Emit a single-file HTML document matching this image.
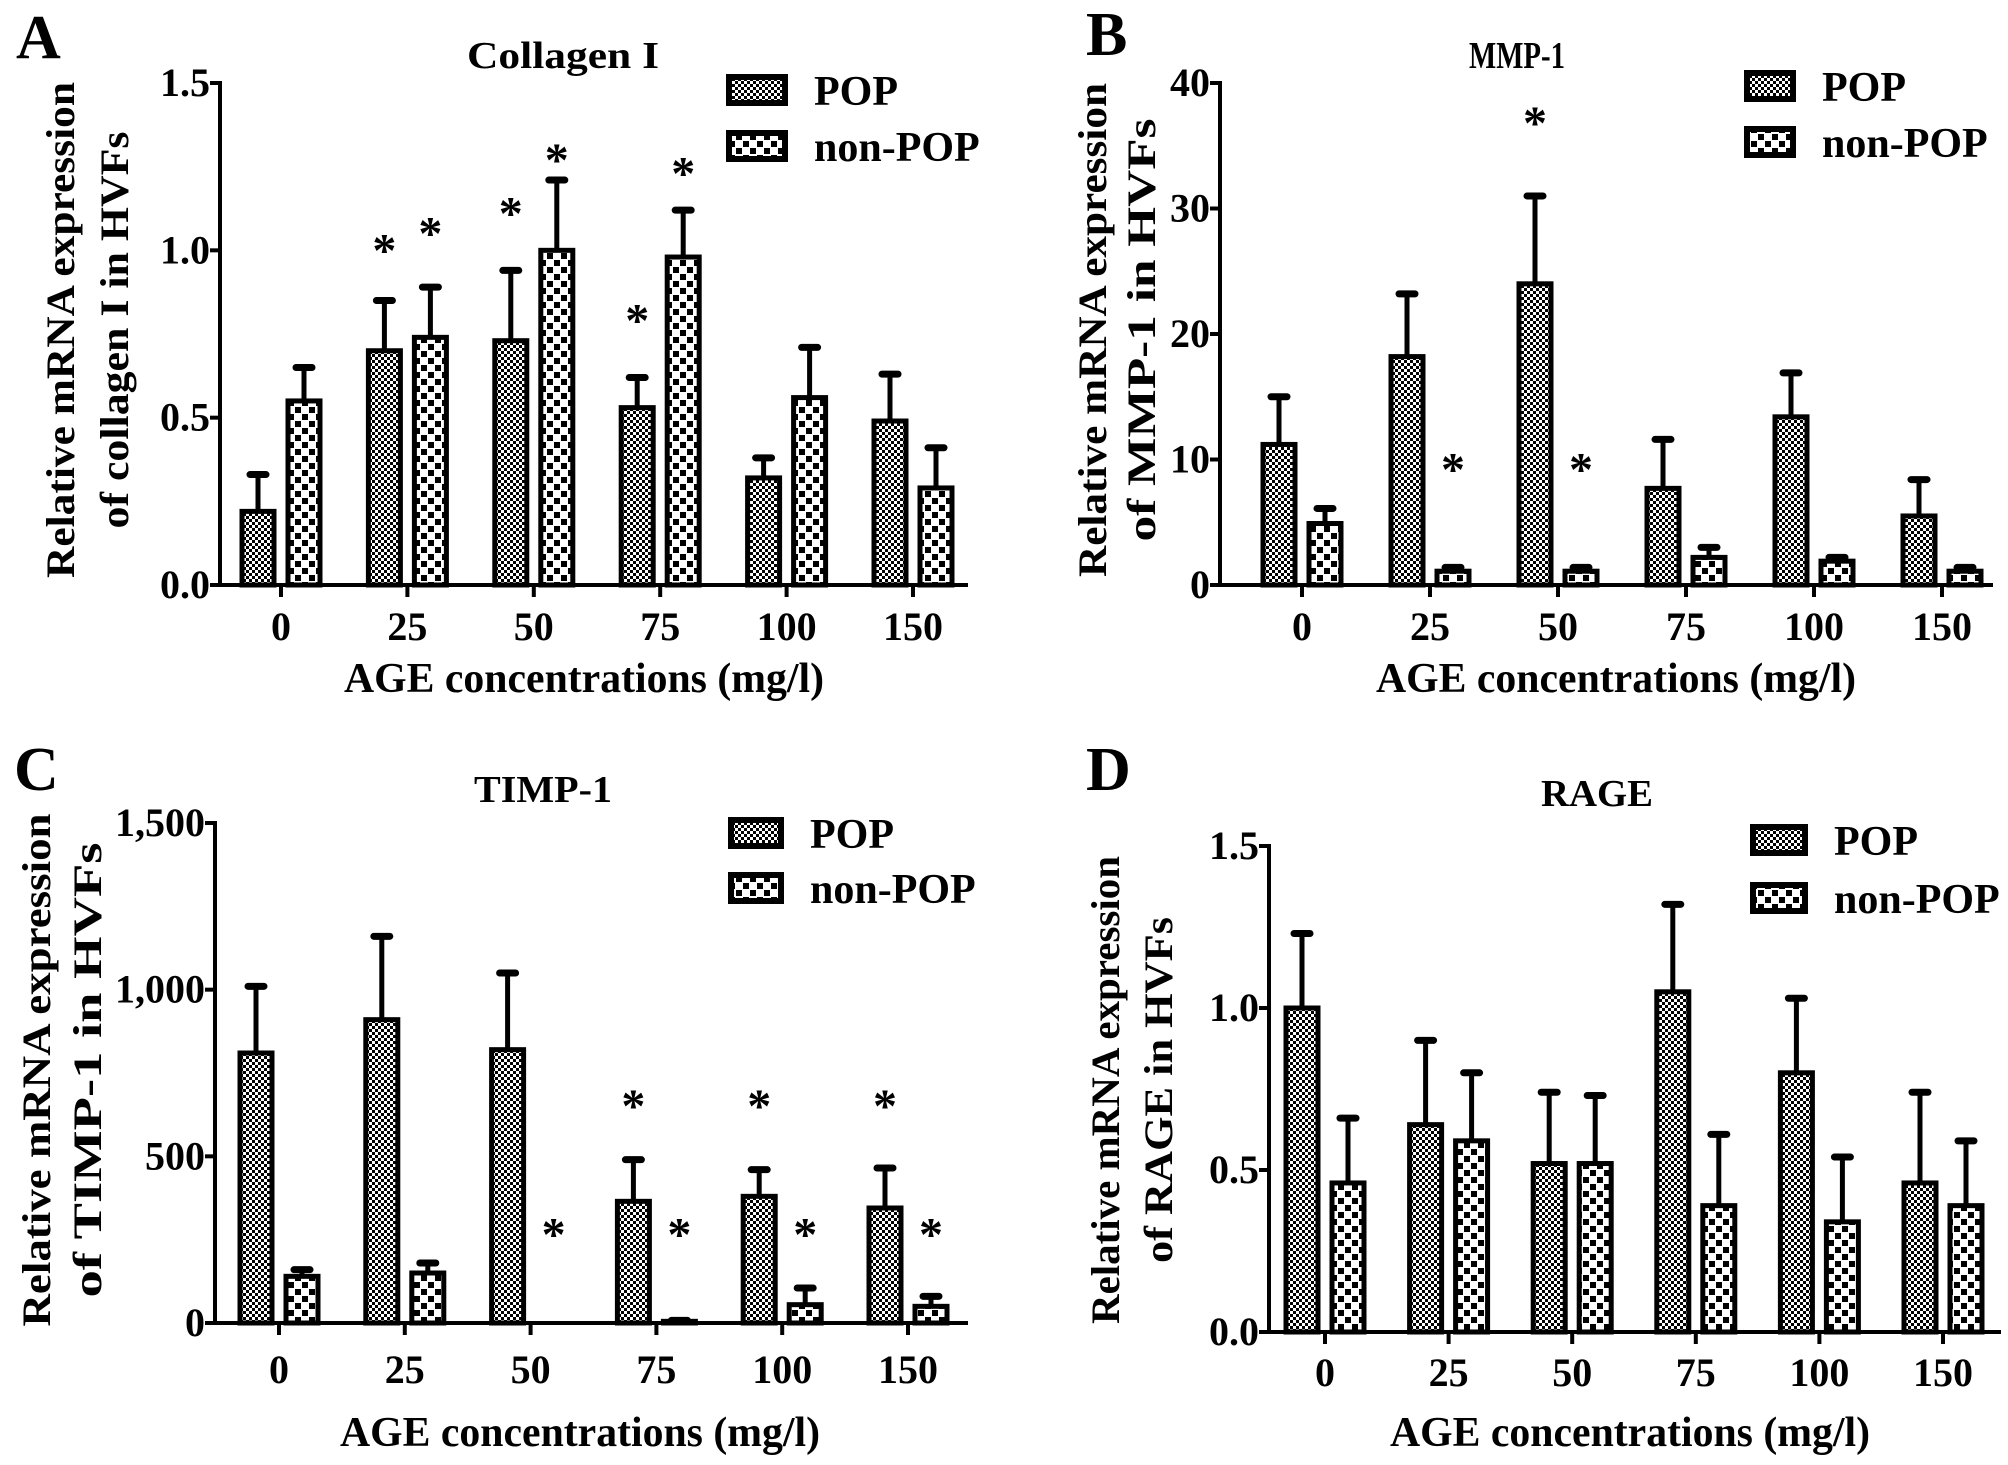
<!DOCTYPE html>
<html><head><meta charset="utf-8"><style>
html,body{margin:0;padding:0;background:#fff;}
svg{display:block;}
text{font-family:"Liberation Serif","Times New Roman",serif;font-weight:bold;fill:#000;}
</style></head><body>
<svg id="fig" width="2008" height="1465" viewBox="0 0 2008 1465" xmlns="http://www.w3.org/2000/svg">
<defs>
<pattern id="popPat" width="6" height="6" patternUnits="userSpaceOnUse">
<rect width="6" height="6" fill="#fff"/><rect width="3" height="3" fill="#000"/><rect x="3" y="3" width="3" height="3" fill="#000"/>
</pattern>
<pattern id="nonPat" width="14" height="14" patternUnits="userSpaceOnUse">
<rect width="14" height="14" fill="#fff"/><rect x="1" y="1" width="6" height="6" fill="#000"/><rect x="8" y="8" width="6" height="6" fill="#000"/>
</pattern>
</defs>
</svg>
<script>
const categories = ["0","25","50","75","100","150"];
// Panel A - Collagen I
const aPop = [0.22,0.70,0.73,0.53,0.32,0.49];
const aPopErr = [0.11,0.15,0.21,0.09,0.06,0.14];
const aNon = [0.55,0.74,1.00,0.98,0.56,0.29];
const aNonErr = [0.10,0.15,0.21,0.14,0.15,0.12];
const aTicks = ["0.0","0.5","1.0","1.5"];
const aTickVals = [0,0.5,1.0,1.5];
const aPopStars = [null,1.03,1.14,0.82,null,null];
const aNonStars = [null,1.08,1.30,1.26,null,null];
// Panel B - MMP-1
const bPop = [11.2,18.2,24.0,7.7,13.4,5.5];
const bPopErr = [3.8,5.0,7.0,3.9,3.5,2.9];
const bNon = [4.9,1.1,1.1,2.2,1.9,1.1];
const bNonErr = [1.2,0.3,0.3,0.8,0.3,0.3];
const bTicks = ["0","10","20","30","40"];
const bTickVals = [0,10,20,30,40];
const bPopStars = [null,null,37.6,null,null,null];
const bNonStars = [null,10.0,10.0,null,null,null];
// Panel C - TIMP-1
const cPop = [810,910,820,365,380,345];
const cPopErr = [200,250,230,125,80,120];
const cNon = [140,150,0,5,55,50];
const cNonErr = [20,30,0,3,50,30];
const cTicks = ["0","500","1,000","1,500"];
const cTickVals = [0,500,1000,1500];
const cPopStars = [null,null,null,681,681,681];
const cNonStars = [null,null,296,296,296,296];
// Panel D - RAGE
const dPop = [1.00,0.64,0.52,1.05,0.80,0.46];
const dPopErr = [0.23,0.26,0.22,0.27,0.23,0.28];
const dNon = [0.46,0.59,0.52,0.39,0.34,0.39];
const dNonErr = [0.20,0.21,0.21,0.22,0.20,0.20];
const dTicks = ["0.0","0.5","1.0","1.5"];
const dTickVals = [0,0.5,1.0,1.5];

const svg = document.getElementById('fig');
const NS = "http://www.w3.org/2000/svg";
function mk(tag, attrs, parent){
  const e = document.createElementNS(NS, tag);
  for (const k in attrs) e.setAttribute(k, attrs[k]);
  (parent||svg).appendChild(e);
  return e;
}
function txt(s, attrs, parent){ const t = mk('text', attrs, parent); t.textContent = s; return t; }

function panel(p){
  const g = mk('g', {});
  
  
  const yv = v => p.zero - v / p.max * (p.zero - p.top);
  const xc = i => p.first + i * p.step;
  const L = txt(p.letter, {x:p.lx, y:p.ly, 'font-size':62}, g);
  
  
  const T = txt(p.title, {x:p.tx - p.tlen/2, y:p.ty, 'font-size':38, textLength:p.tlen, lengthAdjust:'spacingAndGlyphs'}, g);
  
  
  function bars(vals, errs, off, fill, name){
    vals.forEach((v, i) => {
      const x = xc(i) + off;
      const y0 = yv(v), e = yv(v + errs[i]);
      if (errs[i] > 0){
        const ln = mk('line', {x1:x+18, x2:x+18, y1:y0, y2:e, stroke:'#000', 'stroke-width':5}, g);
        
        
        const cp = mk('line', {x1:x+10, x2:x+26, y1:e, y2:e, stroke:'#000', 'stroke-width':7, 'stroke-linecap':'round'}, g);
        
        
      }
      const h = Math.max(p.zero - y0, 0);
      const r = mk('rect', {x:x+2, y:y0, width:32, height:h, fill:fill, stroke:'#000', 'stroke-width':5}, g);
      
      
    });
  }
  bars(p.pop, p.popErr, -41, 'url(#popPat)', 'pop');
  bars(p.non, p.nonErr, 5, 'url(#nonPat)', 'non-pop');
  function stars(arr, off, name){
    if (!arr) return;
    arr.forEach((s, i) => {
      if (s === null) return;
      const st = txt('*', {x:xc(i)+off, y:yv(s)+26, 'font-size':48, 'text-anchor':'middle'}, g);
      
      
    });
  }
  stars(p.popStars, -23, 'pop');
  stars(p.nonStars, 23, 'non-pop');
  const ya = mk('line', {x1:p.x0, x2:p.x0, y1:p.top-2, y2:p.zero+2, stroke:'#000', 'stroke-width':4}, g);
  
  
  const xa = mk('line', {x1:p.x0-2, x2:p.xEnd, y1:p.zero, y2:p.zero, stroke:'#000', 'stroke-width':4}, g);
  
  
  p.tickVals.forEach((v, i) => {
    const y = yv(v);
    const tk = mk('line', {x1:p.x0-10, x2:p.x0, y1:y, y2:y, stroke:'#000', 'stroke-width':4}, g);
    
    
    const tl = txt(p.ticks[i], {x:p.x0-10, y:y+13, 'font-size':40, 'text-anchor':'end'}, g);
    
    
  });
  categories.forEach((c, i) => {
    const x = xc(i);
    const tk = mk('line', {x1:x, x2:x, y1:p.zero, y2:p.zero+12, stroke:'#000', 'stroke-width':4}, g);
    
    
    const tl = txt(c, {x:x, y:p.xly, 'font-size':40, 'text-anchor':'middle'}, g);
    
    
  });
  const xtl = 480;
  const xt = txt('AGE concentrations (mg/l)', {x:p.xtx - xtl/2, y:p.xty, 'font-size':42, textLength:xtl, lengthAdjust:'spacingAndGlyphs'}, g);
  
  
  const yt1 = txt('Relative mRNA expression', {x:-p.l1/2, y:0, 'font-size':40, textLength:p.l1, lengthAdjust:'spacingAndGlyphs', transform:`translate(${p.yt1x+14},${p.ytcy}) rotate(-90)`}, g);
  
  
  const yt2 = txt(p.ysub, {x:-p.l2/2, y:0, 'font-size':40, textLength:p.l2, lengthAdjust:'spacingAndGlyphs', transform:`translate(${p.yt2x+14},${p.ytcy}) rotate(-90)`}, g);
  
  
  const lb1 = mk('rect', {x:p.legx+3, y:p.legy+3, width:p.legw-6, height:26, fill:'url(#popPat)', stroke:'#000', 'stroke-width':6}, g);
  
  
  const lt1 = txt('POP', {x:p.legx+p.legw+26, y:p.legy+31, 'font-size':42}, g);
  
  
  const lb2 = mk('rect', {x:p.legx+3, y:p.legy+p.legdy+3, width:p.legw-6, height:26, fill:'url(#nonPat)', stroke:'#000', 'stroke-width':6}, g);
  
  
  const lt2 = txt('non-POP', {x:p.legx+p.legw+26, y:p.legy+p.legdy+31, 'font-size':42}, g);
  
  
}

panel({id:'a', letter:'A', lx:16, ly:58, title:'Collagen I', tx:563, ty:68, tlen:192,
  pop:aPop, popErr:aPopErr, non:aNon, nonErr:aNonErr, popStars:aPopStars, nonStars:aNonStars,
  ticks:aTicks, tickVals:aTickVals, max:1.5,
  x0:220, zero:585, top:83, xEnd:968, first:281, step:126.4, xly:640, xty:692, xtx:584,
  ysub:'of collagen I in HVFs', yt1x:60, yt2x:114, ytcy:330, l1:496, l2:397,
  legx:726, legy:74, legw:62, legdy:56});
panel({id:'b', letter:'B', lx:1086, ly:55, title:'MMP-1', tx:1517, ty:68, tlen:96,
  pop:bPop, popErr:bPopErr, non:bNon, nonErr:bNonErr, popStars:bPopStars, nonStars:bNonStars,
  ticks:bTicks, tickVals:bTickVals, max:40,
  x0:1220, zero:585, top:83, xEnd:1993, first:1302, step:128, xly:640, xty:692, xtx:1616,
  ysub:'of MMP-1 in HVFs', yt1x:1092, yt2x:1141, ytcy:330, l1:494, l2:423,
  legx:1744, legy:70, legw:52, legdy:56});
panel({id:'c', letter:'C', lx:14, ly:790, title:'TIMP-1', tx:543, ty:802, tlen:138,
  pop:cPop, popErr:cPopErr, non:cNon, nonErr:cNonErr, popStars:cPopStars, nonStars:cNonStars,
  ticks:cTicks, tickVals:cTickVals, max:1500,
  x0:215, zero:1323, top:823, xEnd:968, first:279, step:125.8, xly:1383, xty:1446, xtx:580,
  ysub:'of TIMP-1 in HVFs', yt1x:36, yt2x:87, ytcy:1070, l1:513, l2:455,
  legx:728, legy:817, legw:56, legdy:55});
panel({id:'d', letter:'D', lx:1086, ly:790, title:'RAGE', tx:1597, ty:806, tlen:112,
  pop:dPop, popErr:dPopErr, non:dNon, nonErr:dNonErr, popStars:null, nonStars:null,
  ticks:dTicks, tickVals:dTickVals, max:1.5,
  x0:1269, zero:1332, top:846, xEnd:2001, first:1325, step:123.6, xly:1386, xty:1446, xtx:1630,
  ysub:'of RAGE in HVFs', yt1x:1105, yt2x:1158, ytcy:1090, l1:468, l2:346,
  legx:1750, legy:824, legw:58, legdy:58});
</script>
</body></html>
